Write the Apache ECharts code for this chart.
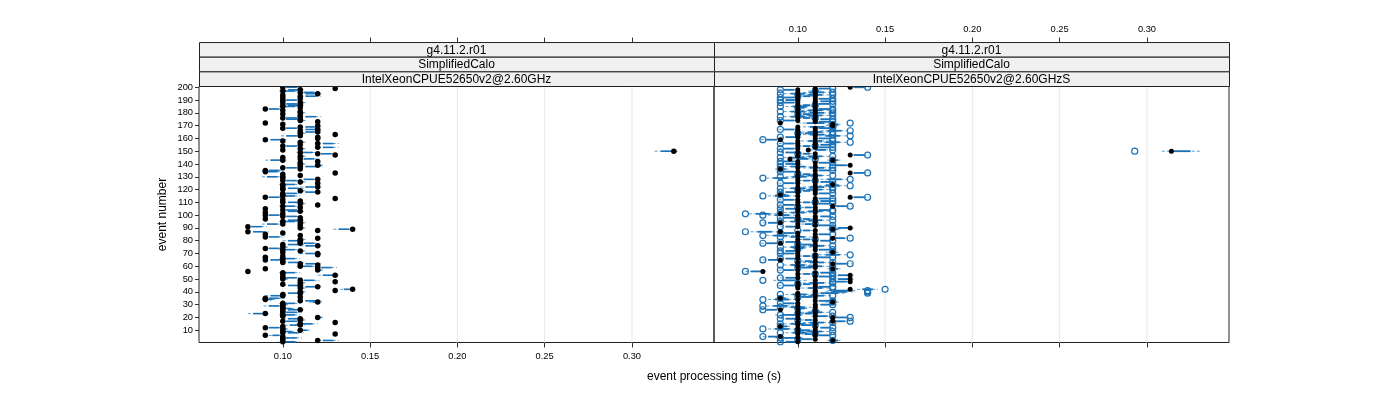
<!DOCTYPE html>
<html><head><meta charset="utf-8">
<script src="https://cdn.jsdelivr.net/npm/echarts@6/dist/echarts.min.js"></script>
<style>html,body{margin:0;padding:0;background:#fff}#c{width:1400px;height:400px}</style>
</head><body><div id="c"></div>
<script>
// ---------------- data ----------------
const xTicks = [0.10, 0.15, 0.20, 0.25, 0.30];
const yTicks = [10,20,30,40,50,60,70,80,90,100,110,120,130,140,150,160,170,180,190,200];
const stripLeft = ['g4.11.2.r01', 'SimplifiedCalo', 'IntelXeonCPUE52650v2@2.60GHz'];
const stripRight = ['g4.11.2.r01', 'SimplifiedCalo', 'IntelXeonCPUE52650v2@2.60GHzS'];
const xTitle = 'event processing time (s)';
const yTitle = 'event number';

// left panel, events 1..200
const leftDots = [
0.10,0.12,0.10,0.10,0.10,0.09,0.13,0.10,0.10,0.11,
0.10,0.09,0.10,0.11,0.11,0.13,0.10,0.11,0.11,0.12,
0.10,0.10,0.09,0.10,0.10,0.11,0.10,0.10,0.10,0.10,
0.10,0.12,0.11,0.09,0.09,0.11,0.10,0.10,0.11,0.11,
0.13,0.14,0.11,0.12,0.11,0.10,0.11,0.13,0.11,0.10,
0.10,0.10,0.13,0.10,0.10,0.08,0.12,0.09,0.12,0.11,
0.12,0.11,0.10,0.10,0.09,0.10,0.09,0.10,0.12,0.12,
0.10,0.11,0.10,0.09,0.10,0.12,0.10,0.11,0.11,0.11,
0.11,0.12,0.09,0.11,0.09,0.10,0.08,0.12,0.14,0.11,
0.08,0.11,0.10,0.11,0.10,0.11,0.09,0.11,0.10,0.09,
0.10,0.09,0.11,0.10,0.09,0.11,0.10,0.12,0.11,0.10,
0.11,0.10,0.13,0.09,0.10,0.10,0.10,0.12,0.11,0.10,
0.10,0.12,0.10,0.10,0.12,0.11,0.10,0.12,0.10,0.10,
0.11,0.10,0.13,0.09,0.09,0.11,0.10,0.11,0.12,0.11,
0.11,0.12,0.10,0.11,0.10,0.11,0.13,0.12,0.11,0.324,
0.10,0.11,0.12,0.10,0.11,0.12,0.11,0.10,0.09,0.12,
0.12,0.11,0.13,0.11,0.12,0.11,0.12,0.10,0.11,0.12,
0.10,0.09,0.12,0.11,0.11,0.10,0.11,0.11,0.10,0.11,
0.11,0.10,0.09,0.11,0.10,0.11,0.10,0.11,0.10,0.10,
0.11,0.10,0.11,0.10,0.12,0.11,0.10,0.11,0.13,0.10];
const leftMean = [
0.104,0.126,0.100,0.105,0.100,0.096,0.131,0.106,0.103,0.112,
0.101,0.095,0.100,0.107,0.114,0.130,0.105,0.111,0.106,0.121,
0.100,0.104,0.086,0.105,0.100,0.106,0.103,0.100,0.095,0.101,
0.104,0.119,0.116,0.092,0.095,0.110,0.096,0.100,0.106,0.111,
0.130,0.137,0.111,0.116,0.106,0.100,0.111,0.130,0.115,0.101,
0.105,0.100,0.126,0.100,0.104,0.080,0.121,0.090,0.125,0.114,
0.120,0.116,0.106,0.100,0.096,0.104,0.090,0.100,0.120,0.116,
0.100,0.111,0.104,0.095,0.101,0.116,0.106,0.115,0.110,0.106,
0.111,0.120,0.095,0.110,0.090,0.100,0.086,0.120,0.135,0.111,
0.085,0.110,0.094,0.111,0.104,0.106,0.090,0.110,0.105,0.095,
0.100,0.090,0.106,0.105,0.090,0.110,0.104,0.120,0.111,0.106,
0.110,0.100,0.130,0.095,0.104,0.100,0.105,0.116,0.111,0.100,
0.106,0.116,0.100,0.104,0.120,0.111,0.105,0.115,0.100,0.094,
0.110,0.100,0.130,0.094,0.095,0.110,0.105,0.116,0.121,0.111,
0.110,0.120,0.096,0.115,0.100,0.111,0.130,0.125,0.114,0.320,
0.100,0.111,0.126,0.105,0.110,0.126,0.111,0.100,0.096,0.120,
0.120,0.105,0.130,0.111,0.116,0.110,0.116,0.105,0.116,0.120,
0.100,0.090,0.120,0.111,0.105,0.105,0.116,0.110,0.100,0.111,
0.110,0.100,0.095,0.110,0.104,0.106,0.105,0.111,0.100,0.105,
0.110,0.100,0.116,0.100,0.116,0.115,0.104,0.106,0.130,0.105];
const leftSE = [
0.003,0.003,0,0.003,0,0.002,0,0.003,0.002,0.002,
0.001,0.003,0,0.003,0.003,0,0.003,0.001,0.003,0.001,
0,0.003,0.003,0.003,0,0.003,0.002,0,0.003,0.001,
0.003,0.002,0.003,0.002,0.003,0,0.003,0,0.003,0.001,
0,0.002,0.001,0.003,0.003,0,0.001,0,0.003,0.001,
0.003,0,0.003,0,0.003,0,0.001,0,0.003,0.003,
0,0.003,0.003,0,0.003,0.003,0,0,0,0.003,
0,0.001,0.003,0.003,0.001,0.003,0.003,0.003,0,0.003,
0.001,0,0.003,0,0,0,0.003,0,0.003,0.001,
0.003,0,0.003,0.001,0.003,0.003,0,0,0.003,0.003,
0,0,0.003,0.003,0,0,0.003,0,0.001,0.003,
0,0,0,0.003,0.003,0,0.003,0.003,0.001,0,
0.003,0.003,0,0.003,0,0.001,0.003,0.003,0,0.003,
0,0,0,0.003,0.003,0,0.003,0.003,0.001,0.001,
0,0,0.003,0.003,0,0.001,0,0.003,0.003,0.0035,
0,0.001,0.003,0.003,0,0.003,0.001,0,0.003,0,
0,0.003,0,0.001,0.003,0,0.003,0.003,0.003,0,
0,0,0,0.001,0.003,0.003,0.003,0,0,0.001,
0,0,0.003,0,0.003,0.003,0.003,0.001,0,0.003,
0,0,0.003,0,0.003,0.003,0.003,0.003,0,0.003];

// right panel, events 1..200
const rightDots = [
0.10,0.12,0.11,0.10,0.09,0.11,0.10,0.11,0.10,0.11,
0.10,0.11,0.09,0.10,0.11,0.10,0.12,0.11,0.10,0.12,
0.11,0.10,0.11,0.10,0.11,0.09,0.10,0.11,0.10,0.11,
0.10,0.12,0.11,0.10,0.09,0.11,0.10,0.11,0.10,0.11,
0.11,0.13,0.10,0.11,0.10,0.11,0.10,0.13,0.11,0.13,
0.10,0.11,0.13,0.10,0.11,0.08,0.10,0.12,0.11,0.10,
0.11,0.12,0.10,0.11,0.09,0.10,0.11,0.10,0.11,0.10,
0.12,0.10,0.11,0.10,0.11,0.10,0.11,0.09,0.10,0.11,
0.10,0.12,0.11,0.10,0.11,0.10,0.09,0.11,0.12,0.13,
0.10,0.11,0.10,0.09,0.11,0.10,0.11,0.10,0.11,0.10,
0.09,0.11,0.10,0.11,0.10,0.11,0.12,0.10,0.11,0.10,
0.11,0.10,0.11,0.13,0.10,0.09,0.11,0.10,0.11,0.10,
0.11,0.10,0.11,0.12,0.10,0.11,0.10,0.11,0.10,0.11,
0.10,0.11,0.13,0.10,0.11,0.09,0.10,0.11,0.13,0.10,
0.11,0.10,0.12,0.0955,0.11,0.10,0.13,0.11,0.10,0.314,
0.106,0.10,0.11,0.10,0.11,0.10,0.11,0.10,0.09,0.11,
0.10,0.11,0.10,0.11,0.10,0.11,0.10,0.11,0.10,0.12,
0.12,0.09,0.11,0.10,0.11,0.10,0.11,0.10,0.11,0.10,
0.11,0.10,0.11,0.10,0.11,0.10,0.11,0.10,0.11,0.10,
0.11,0.10,0.11,0.10,0.11,0.10,0.11,0.10,0.11,0.13];
const rightCircles = [
0.09,0.12,0.10,0.09,0.08,0.12,0.11,0.09,0.12,0.10,
0.08,0.12,0.09,0.11,0.09,0.12,0.13,0.10,0.09,0.13,
0.12,0.09,0.10,0.12,0.11,0.08,0.10,0.09,0.08,0.12,
0.09,0.12,0.12,0.08,0.09,0.10,0.12,0.09,0.14,0.14,
0.14,0.15,0.12,0.12,0.09,0.10,0.12,0.12,0.08,0.12,
0.09,0.12,0.12,0.11,0.12,0.07,0.09,0.12,0.10,0.12,
0.09,0.13,0.12,0.10,0.08,0.09,0.12,0.11,0.13,0.09,
0.12,0.09,0.12,0.10,0.09,0.12,0.10,0.08,0.09,0.12,
0.11,0.13,0.09,0.08,0.12,0.09,0.07,0.10,0.12,0.12,
0.09,0.12,0.11,0.08,0.09,0.12,0.10,0.09,0.12,0.08,
0.07,0.09,0.12,0.12,0.09,0.10,0.13,0.09,0.12,0.11,
0.12,0.09,0.12,0.14,0.08,0.09,0.12,0.09,0.10,0.12,
0.09,0.12,0.13,0.12,0.09,0.12,0.11,0.13,0.08,0.09,
0.12,0.10,0.14,0.09,0.12,0.09,0.12,0.09,0.12,0.09,
0.12,0.09,0.12,0.11,0.09,0.12,0.14,0.10,0.09,0.293,
0.12,0.09,0.12,0.11,0.12,0.09,0.13,0.12,0.08,0.12,
0.09,0.13,0.12,0.10,0.12,0.13,0.09,0.12,0.12,0.12,
0.12,0.13,0.12,0.09,0.12,0.11,0.09,0.12,0.10,0.12,
0.09,0.12,0.12,0.10,0.09,0.11,0.12,0.09,0.12,0.09,
0.12,0.09,0.10,0.12,0.09,0.12,0.11,0.09,0.12,0.14];
const rightMean = [
0.096,0.121,0.105,0.095,0.086,0.115,0.106,0.101,0.110,0.104,
0.091,0.116,0.092,0.105,0.100,0.111,0.124,0.106,0.096,0.125,
0.114,0.095,0.106,0.110,0.111,0.085,0.102,0.100,0.090,0.116,
0.095,0.120,0.115,0.091,0.091,0.105,0.111,0.101,0.118,0.124,
0.125,0.140,0.110,0.115,0.095,0.105,0.111,0.125,0.096,0.126,
0.096,0.115,0.126,0.105,0.116,0.076,0.095,0.121,0.105,0.110,
0.100,0.125,0.111,0.106,0.086,0.096,0.115,0.105,0.120,0.095,
0.120,0.096,0.115,0.101,0.100,0.111,0.105,0.085,0.096,0.116,
0.105,0.124,0.100,0.090,0.115,0.095,0.081,0.105,0.121,0.126,
0.096,0.115,0.106,0.086,0.100,0.110,0.105,0.095,0.116,0.091,
0.080,0.100,0.110,0.115,0.096,0.106,0.125,0.095,0.115,0.105,
0.116,0.095,0.115,0.135,0.091,0.091,0.115,0.096,0.105,0.110,
0.100,0.111,0.120,0.120,0.095,0.116,0.105,0.121,0.090,0.101,
0.110,0.105,0.135,0.095,0.115,0.091,0.111,0.100,0.125,0.096,
0.115,0.095,0.121,0.103,0.100,0.110,0.135,0.105,0.096,0.3195,
0.113,0.095,0.115,0.105,0.116,0.095,0.120,0.110,0.085,0.115,
0.096,0.120,0.111,0.106,0.110,0.121,0.095,0.115,0.111,0.120,
0.121,0.110,0.115,0.095,0.116,0.105,0.100,0.110,0.105,0.111,
0.100,0.110,0.115,0.102,0.101,0.105,0.115,0.095,0.116,0.096,
0.115,0.095,0.105,0.110,0.100,0.111,0.110,0.095,0.115,0.135];
const rightSE = [
0.003,0.002,0.003,0.004,0.003,0.003,0.002,0.004,0.004,0.003,
0.004,0.003,0.002,0.003,0.004,0.004,0.003,0.002,0.003,0.003,
0.003,0.004,0.002,0.004,0.001,0.003,0.002,0.004,0.004,0.003,
0.003,0.002,0.003,0.004,0.002,0.003,0.004,0.004,0.005,0.004,
0.004,0.003,0.004,0.003,0.003,0.002,0.004,0.003,0.005,0.003,
0.003,0.003,0.003,0.002,0.003,0.003,0.003,0.002,0.003,0.004,
0.004,0.003,0.004,0.002,0.003,0.003,0.003,0.002,0.004,0.003,
0.002,0.003,0.003,0.002,0.004,0.004,0.003,0.003,0.003,0.003,
0.002,0.003,0.004,0.004,0.003,0.003,0.004,0.002,0.002,0.003,
0.003,0.003,0.002,0.003,0.004,0.004,0.002,0.003,0.003,0.004,
0.004,0.004,0.004,0.003,0.003,0.002,0.003,0.003,0.003,0.002,
0.003,0.003,0.003,0.003,0.004,0.002,0.003,0.003,0.002,0.004,
0.004,0.004,0.004,0.002,0.003,0.003,0.002,0.004,0.004,0.004,
0.004,0.002,0.003,0.003,0.003,0.002,0.004,0.004,0.003,0.003,
0.003,0.003,0.002,0.003,0.004,0.004,0.003,0.002,0.003,0.0055,
0.003,0.003,0.003,0.002,0.003,0.003,0.004,0.004,0.003,0.003,
0.003,0.004,0.004,0.002,0.004,0.004,0.003,0.003,0.004,0.002,
0.002,0.005,0.003,0.003,0.003,0.002,0.004,0.004,0.002,0.004,
0.004,0.004,0.003,0.002,0.004,0.002,0.003,0.003,0.003,0.003,
0.003,0.003,0.002,0.004,0.004,0.004,0.002,0.003,0.003,0.003];

// ---------------- chart ----------------
const FONT = "'Liberation Sans', Arial, sans-serif";
const XMIN = 0.052, XMAX = 0.347, YMIN = 0.4, YMAX = 200.6;
const GL = [199, 714], GW = 515, GT = 86.5, GH = 256;
const STRIP_H = 14.65;
const BLUE = '#1a72b8', BLUE_D = '#5a9fd2';

const ev = leftDots.map((_, i) => i + 1);
const pts = (vals) => vals.map((v, i) => [v, ev[i]]);
const segs = (mean, se) => mean.map((m, i) => [m, se[i], ev[i]]);

function segRender(mult, dashed, color, width) {
  return function (params, api) {
    const m = api.value(0), s = api.value(1), e = api.value(2);
    if (!s) return null;
    const p1 = api.coord([m - mult * s, e]);
    const p2 = api.coord([m + mult * s, e]);
    return { type: 'line', shape: { x1: p1[0], y1: p1[1], x2: p2[0], y2: p2[1] },
      style: { stroke: color, lineWidth: width, lineDash: dashed ? [3, 2] : null } };
  };
}
function gridRender(params, api) {
  const v = api.value(0);
  const a = api.coord([v, YMIN]), b = api.coord([v, YMAX]);
  return { type: 'line', shape: { x1: a[0], y1: a[1], x2: b[0], y2: b[1] },
    style: { stroke: '#e8e8e8', lineWidth: 1 } };
}

function xAx(gi, pos, showLabel) {
  return {
    type: 'value', gridIndex: gi, position: pos, min: XMIN, max: XMAX,
    offset: pos === 'top' ? STRIP_H * 3 : 0,
    axisLine: { show: false },
    splitLine: { show: false },
    axisTick: { show: true, length: 5, customValues: xTicks, lineStyle: { color: '#333' } },
    axisLabel: { show: showLabel, customValues: xTicks, margin: 9, fontSize: 9.3, fontFamily: FONT, color: '#000',
      formatter: v => v.toFixed(2) }
  };
}
function yAx(gi, showLabel) {
  return {
    type: 'value', gridIndex: gi, min: YMIN, max: YMAX,
    axisLine: { show: false }, splitLine: { show: false },
    axisTick: { show: showLabel, length: 4, customValues: yTicks, lineStyle: { color: '#333' } },
    axisLabel: { show: showLabel, customValues: yTicks, margin: 6, fontSize: 9.3, fontFamily: FONT, color: '#000' }
  };
}

const graphics = [];
[stripLeft, stripRight].forEach((texts, p) => {
  texts.forEach((t, k) => {
    const y = GT - STRIP_H * (3 - k);
    graphics.push({ type: 'rect', shape: { x: GL[p] + 0.5, y: y, width: GW, height: STRIP_H },
      style: { fill: '#f0f0f0', stroke: '#222', lineWidth: 1 }, z: 10 });
    graphics.push({ type: 'text', x: GL[p] + GW / 2, y: y + STRIP_H / 2 + 0.5,
      style: { text: t, fontSize: 12, fontFamily: FONT, fill: '#000', align: 'center', verticalAlign: 'middle' }, z: 11 });
  });
});
graphics.push({ type: 'text', x: GL[1], y: 377, style: { text: xTitle, fontSize: 12, fontFamily: FONT, fill: '#000', align: 'center', verticalAlign: 'middle' } });
graphics.push({ type: 'text', x: 163, y: GT + GH / 2, rotation: Math.PI / 2,
  style: { text: yTitle, fontSize: 12, fontFamily: FONT, fill: '#000', align: 'center', verticalAlign: 'middle' } });

const chart = echarts.init(document.getElementById('c'), null, { renderer: 'canvas' });
chart.setOption({
  animation: false,
  backgroundColor: '#fff',
  grid: [0, 1].map(p => ({ left: GL[p], top: GT, width: GW, height: GH, show: true,
    borderColor: '#222', borderWidth: 1, backgroundColor: 'transparent', containLabel: false, outerBoundsMode: 'none' })),
  xAxis: [xAx(0, 'bottom', true), xAx(0, 'top', false), xAx(1, 'bottom', false), xAx(1, 'top', true)],
  yAxis: [yAx(0, true), yAx(1, false)],
  graphic: graphics,
  series: [
    { type: 'custom', xAxisIndex: 0, yAxisIndex: 0, data: xTicks.map(v => [v]), renderItem: gridRender, z: 1, silent: true, encode: { x: 0 } },
    { type: 'custom', xAxisIndex: 2, yAxisIndex: 1, data: xTicks.map(v => [v]), renderItem: gridRender, z: 1, silent: true, encode: { x: 0 } },

    { type: 'custom', xAxisIndex: 0, yAxisIndex: 0, data: segs(leftMean, leftSE), renderItem: segRender(2, true, BLUE_D, 1), encode: { x: 0, y: 2 }, z: 2, silent: true },
    { type: 'custom', xAxisIndex: 0, yAxisIndex: 0, data: segs(leftMean, leftSE), renderItem: segRender(1, false, BLUE, 1.6), encode: { x: 0, y: 2 }, z: 3, silent: true },
    { type: 'scatter', xAxisIndex: 0, yAxisIndex: 0, data: pts(leftDots), symbol: 'circle', symbolSize: 5.5,
      itemStyle: { color: '#000', opacity: 1 }, z: 5, silent: true },

    { type: 'custom', xAxisIndex: 2, yAxisIndex: 1, data: segs(rightMean, rightSE), renderItem: segRender(2, true, BLUE_D, 1), encode: { x: 0, y: 2 }, z: 2, silent: true },
    { type: 'custom', xAxisIndex: 2, yAxisIndex: 1, data: segs(rightMean, rightSE), renderItem: segRender(1, false, BLUE, 1.8), encode: { x: 0, y: 2 }, z: 3, silent: true },
    { type: 'scatter', xAxisIndex: 2, yAxisIndex: 1, data: pts(rightCircles), symbol: 'circle', symbolSize: 6,
      itemStyle: { color: 'rgba(0,0,0,0)', borderColor: BLUE, borderWidth: 1.2, opacity: 1 }, z: 4, silent: true },
    { type: 'scatter', xAxisIndex: 2, yAxisIndex: 1, data: pts(rightDots), symbol: 'circle', symbolSize: 5,
      itemStyle: { color: '#000', opacity: 1 }, z: 5, silent: true }
  ]
});
</script>
</body></html>
